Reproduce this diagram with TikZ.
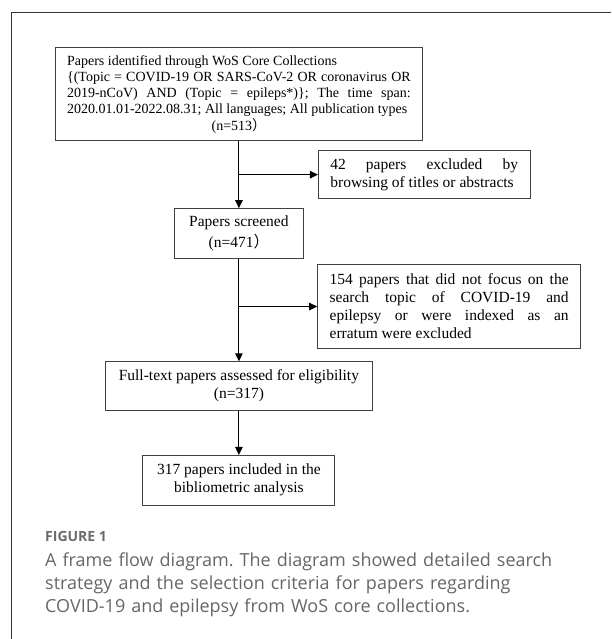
\documentclass[tikz,border=0pt]{standalone}
\usepackage{fontspec}
\setmainfont{Liberation Serif}
\newfontfamily\capfont{Open Sans}
\newfontfamily\cjk{Noto Sans CJK SC}
\usetikzlibrary{positioning,arrows.meta}
\hyphenpenalty=10000
\exhyphenpenalty=10000
\frenchspacing

\begin{document}
\begin{tikzpicture}[
		x=1pt, y=-1pt,
		base/.style={draw=black!75, line width=0.9pt, inner xsep=12pt, inner ysep=2pt, font=\fontsize{15.5}{18}\selectfont},
		search/.style={base, text width=343.7pt, minimum height=93pt, align=justify, font=\fontsize{14}{16.3}\selectfont},
		stage/.style={base, align=center},
		excluded/.style={base, align=justify},
		arrow/.style={-{Triangle[length=8pt, width=7.5pt]}, line width=1.1pt},
		caption/.style={inner sep=0pt, anchor=base west, text=black!60},
	]
	\useasboundingbox (0,0) rectangle (611,639);
	\draw[black!80, line width=1pt] (611,12.7) -- (11,12.7) -- (11,639);

	\node[search] (search) at (238.9,94.2) {Papers identified through WoS Core Collections\newline
		\{(Topic = COVID-19 OR SARS-CoV-2 OR coronavirus OR\linebreak
		2019-nCoV) AND (Topic = epileps*)\}; The time span:\linebreak
		2020.01.01-2022.08.31; All languages; All publication types\par
		\hspace*{\fill}(n=513{\cjk ）}\hspace*{\fill}\par};
	\node[stage, minimum width=129.3pt, minimum height=50pt, font=\fontsize{15.5}{21}\selectfont, below=67pt of search] (screened) {Papers screened\\(n=471{\cjk ）}};
	\node[stage, minimum width=267.4pt, minimum height=48.3pt, below=102.3pt of screened] (fulltext) {Full-text papers assessed for eligibility\\(n=317)};
	\node[stage, minimum width=192pt, minimum height=49.6pt, below=44.4pt of fulltext] (included) {317 papers included in the\\bibliometric analysis};

	\coordinate[below=33.5pt of search.south] (fork1);
	\coordinate[below=47.5pt of screened.south] (fork2);
	\node[excluded, text width=187.7pt, minimum height=48.4pt, right=79pt of fork1] (browse) {42 papers excluded by\linebreak browsing of titles or abstracts};
	\node[excluded, text width=239pt, minimum height=83.4pt, right=78.3pt of fork2] (offtopic) {154 papers that did not focus on the\linebreak
		search topic of COVID-19 and\linebreak
		epilepsy or were indexed as an\linebreak
		erratum were excluded};

	\draw[arrow] (search) -- (screened);
	\draw[arrow] (fork1) -- (browse);
	\draw[arrow] (screened) -- (fulltext);
	\draw[arrow] (fork2) -- (offtopic);
	\draw[arrow] (fulltext) -- (included);

	\node[caption, font=\capfont\bfseries\fontsize{14}{17}\selectfont, text=black!58] (figlabel) at (45,541) {FIGURE 1};
	\node[caption, font=\capfont\fontsize{18}{23.3}\selectfont, text width=560pt, align=left] (figtext) at (45,566) {A frame flow diagram. The diagram showed detailed search\\
		strategy and the selection criteria for papers regarding\\
		COVID-19 and epilepsy from WoS core collections.};
\end{tikzpicture}
\end{document}
